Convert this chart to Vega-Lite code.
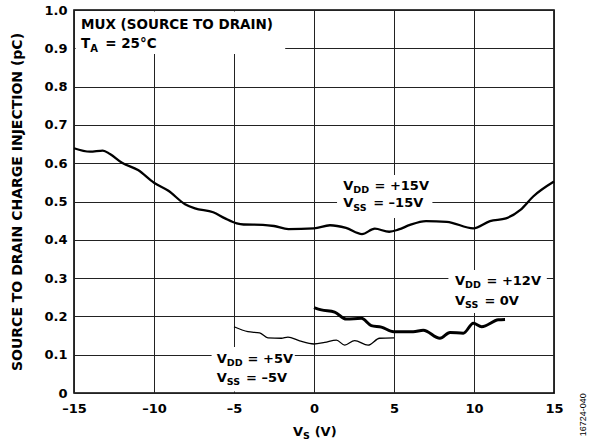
{
  "$schema": "https://vega.github.io/schema/vega-lite/v6.json",
  "width": 480,
  "height": 383,
  "autosize": "none",
  "padding": {"left": 74, "top": 10, "right": 43, "bottom": 53},
  "background": "white",
  "config": {
    "view": {"stroke": "black", "strokeWidth": 1.6},
    "font": "DejaVu Sans",
    "axis": {
      "grid": true,
      "gridColor": "#222222",
      "gridWidth": 1,
      "gridOpacity": 1,
      "ticks": false,
      "domain": false,
      "labelFont": "DejaVu Sans",
      "labelFontWeight": "bold",
      "labelFontSize": 13,
      "labelColor": "black",
      "labelOverlap": false,
      "labelBound": false,
      "labelFlush": false
    }
  },
  "datasets": {
    "curves": [
      {"s": "15", "x": -15, "y": 0.639}, {"s": "15", "x": -14, "y": 0.630}, {"s": "15", "x": -13.2, "y": 0.633},
      {"s": "15", "x": -12.75, "y": 0.624}, {"s": "15", "x": -12, "y": 0.601}, {"s": "15", "x": -11, "y": 0.582},
      {"s": "15", "x": -10, "y": 0.549}, {"s": "15", "x": -9.1, "y": 0.528}, {"s": "15", "x": -8.06, "y": 0.493},
      {"s": "15", "x": -7.44, "y": 0.482}, {"s": "15", "x": -6.3, "y": 0.472}, {"s": "15", "x": -5.56, "y": 0.456},
      {"s": "15", "x": -4.83, "y": 0.443}, {"s": "15", "x": -4.4, "y": 0.440}, {"s": "15", "x": -3.2, "y": 0.439},
      {"s": "15", "x": -2.5, "y": 0.436}, {"s": "15", "x": -1.6, "y": 0.428}, {"s": "15", "x": 0, "y": 0.430},
      {"s": "15", "x": 1.0, "y": 0.438}, {"s": "15", "x": 2.0, "y": 0.431}, {"s": "15", "x": 3.0, "y": 0.415},
      {"s": "15", "x": 3.8, "y": 0.429}, {"s": "15", "x": 4.7, "y": 0.421}, {"s": "15", "x": 5.3, "y": 0.427},
      {"s": "15", "x": 6.0, "y": 0.439}, {"s": "15", "x": 7.0, "y": 0.449}, {"s": "15", "x": 8.3, "y": 0.447},
      {"s": "15", "x": 9.96, "y": 0.430}, {"s": "15", "x": 11, "y": 0.449}, {"s": "15", "x": 12, "y": 0.456},
      {"s": "15", "x": 12.9, "y": 0.478}, {"s": "15", "x": 13.7, "y": 0.513}, {"s": "15", "x": 15, "y": 0.552},
      {"s": "5", "x": -5, "y": 0.173}, {"s": "5", "x": -4.13, "y": 0.160}, {"s": "5", "x": -3.4, "y": 0.157},
      {"s": "5", "x": -2.88, "y": 0.144}, {"s": "5", "x": -2.04, "y": 0.143}, {"s": "5", "x": -1.63, "y": 0.146},
      {"s": "5", "x": -0.9, "y": 0.136}, {"s": "5", "x": 0, "y": 0.128}, {"s": "5", "x": 0.67, "y": 0.132},
      {"s": "5", "x": 1.4, "y": 0.138}, {"s": "5", "x": 1.92, "y": 0.125}, {"s": "5", "x": 2.54, "y": 0.137},
      {"s": "5", "x": 3.38, "y": 0.125}, {"s": "5", "x": 4.1, "y": 0.143}, {"s": "5", "x": 5.0, "y": 0.144},
      {"s": "12", "x": 0, "y": 0.223}, {"s": "12", "x": 0.46, "y": 0.217}, {"s": "12", "x": 1.29, "y": 0.211},
      {"s": "12", "x": 2.02, "y": 0.193}, {"s": "12", "x": 2.96, "y": 0.195}, {"s": "12", "x": 3.58, "y": 0.176},
      {"s": "12", "x": 4.21, "y": 0.172}, {"s": "12", "x": 4.98, "y": 0.160}, {"s": "12", "x": 6.2, "y": 0.160},
      {"s": "12", "x": 6.83, "y": 0.164}, {"s": "12", "x": 7.87, "y": 0.143}, {"s": "12", "x": 8.5, "y": 0.158},
      {"s": "12", "x": 9.33, "y": 0.156}, {"s": "12", "x": 9.96, "y": 0.182}, {"s": "12", "x": 10.48, "y": 0.173},
      {"s": "12", "x": 11.52, "y": 0.191}, {"s": "12", "x": 11.94, "y": 0.192}
    ],
    "boxes": [
      {"x": -14.9, "x2": -1.8, "y": 0.885, "y2": 0.996},
      {"x": 1.44, "x2": 7.4, "y": 0.457, "y2": 0.569},
      {"x": 8.4, "x2": 14.55, "y": 0.209, "y2": 0.321},
      {"x": -6.4, "x2": -1.2, "y": 0.004, "y2": 0.12}
    ],
    "labels": [
      {"part": "title", "x": -14.56, "y": 0.950, "text": "MUX (SOURCE TO DRAIN)"},
      {"part": "title", "x": -14.56, "y": 0.900, "text": "T"},
      {"part": "titlesub", "x": -13.99, "y": 0.891, "text": "A"},
      {"part": "title", "x": -13.05, "y": 0.900, "text": "= 25°C"},
      {"part": "main", "x": 1.83, "y": 0.530, "text": "V"},
      {"part": "sub", "x": 2.46, "y": 0.521, "text": "DD"},
      {"part": "main", "x": 3.78, "y": 0.530, "text": "= +15V"},
      {"part": "main", "x": 1.83, "y": 0.485, "text": "V"},
      {"part": "sub", "x": 2.46, "y": 0.476, "text": "SS"},
      {"part": "main", "x": 3.7, "y": 0.485, "text": "= –15V"},
      {"part": "main", "x": 8.81, "y": 0.282, "text": "V"},
      {"part": "sub", "x": 9.44, "y": 0.273, "text": "DD"},
      {"part": "main", "x": 10.78, "y": 0.282, "text": "= +12V"},
      {"part": "main", "x": 8.81, "y": 0.230, "text": "V"},
      {"part": "sub", "x": 9.44, "y": 0.221, "text": "SS"},
      {"part": "main", "x": 10.65, "y": 0.230, "text": "= 0V"},
      {"part": "main", "x": -6.08, "y": 0.079, "text": "V"},
      {"part": "sub", "x": -5.45, "y": 0.070, "text": "DD"},
      {"part": "main", "x": -4.15, "y": 0.079, "text": "= +5V"},
      {"part": "main", "x": -6.08, "y": 0.0295, "text": "V"},
      {"part": "sub", "x": -5.45, "y": 0.0204, "text": "SS"},
      {"part": "main", "x": -4.25, "y": 0.0295, "text": "= –5V"},
      {"part": "main", "x": -1.31, "y": -0.112, "text": "V"},
      {"part": "sub", "x": -0.68, "y": -0.121, "text": "S"},
      {"part": "main", "x": 0.04, "y": -0.112, "text": "(V)"},
      {"part": "code", "x": 16.83, "y": -0.057, "text": "16724-040"}
    ]
  },
  "encoding": {
    "x": {
      "field": "x",
      "type": "quantitative",
      "scale": {"domain": [-15, 15], "nice": false, "zero": false},
      "axis": {
        "values": [-15, -10, -5, 0, 5, 10, 15],
        "labelPadding": 9,
        "labelExpr": "datum.value < 0 ? '–' + abs(datum.value) : datum.value",
        "title": null
      }
    },
    "y": {
      "field": "y",
      "type": "quantitative",
      "scale": {"domain": [0, 1], "nice": false},
      "axis": {
        "values": [0, 0.1, 0.2, 0.3, 0.4, 0.5, 0.6, 0.7, 0.8, 0.9, 1.0],
        "labelPadding": 7,
        "labelExpr": "datum.value == 0 ? '0' : format(datum.value, '.1f')",
        "title": "SOURCE TO DRAIN CHARGE INJECTION (pC)",
        "titleFont": "DejaVu Sans",
        "titleFontSize": 14,
        "titleFontWeight": "bold",
        "titleColor": "black",
        "titleAngle": -90,
        "titleX": -57,
        "titleY": 191.5,
        "titleAlign": "center",
        "titleBaseline": "middle"
      }
    }
  },
  "layer": [
    {
      "data": {"name": "boxes"},
      "mark": {"type": "rect", "fill": "white", "stroke": null},
      "encoding": {"x2": {"field": "x2"}, "y2": {"field": "y2"}}
    },
    {
      "data": {"name": "curves"},
      "transform": [{"filter": "datum.s == '15'"}],
      "mark": {"type": "line", "color": "black", "interpolate": "monotone", "strokeJoin": "round", "strokeWidth": 2.3},
      "encoding": {}
    },
    {
      "data": {"name": "curves"},
      "transform": [{"filter": "datum.s == '5'"}],
      "mark": {"type": "line", "color": "black", "interpolate": "monotone", "strokeJoin": "round", "strokeWidth": 1.3},
      "encoding": {}
    },
    {
      "data": {"name": "curves"},
      "transform": [{"filter": "datum.s == '12'"}],
      "mark": {"type": "line", "color": "black", "interpolate": "monotone", "strokeJoin": "round", "strokeWidth": 3.0},
      "encoding": {}
    },
    {
      "data": {"name": "labels"},
      "transform": [{"filter": "datum.part == 'main'"}],
      "mark": {"type": "text", "align": "left", "baseline": "alphabetic", "font": "DejaVu Sans", "fontWeight": "bold", "fontSize": 13, "color": "black"},
      "encoding": {"text": {"field": "text"}}
    },
    {
      "data": {"name": "labels"},
      "transform": [{"filter": "datum.part == 'sub'"}],
      "mark": {"type": "text", "align": "left", "baseline": "alphabetic", "font": "DejaVu Sans", "fontWeight": "bold", "fontSize": 9.5, "color": "black"},
      "encoding": {"text": {"field": "text"}}
    },
    {
      "data": {"name": "labels"},
      "transform": [{"filter": "datum.part == 'title'"}],
      "mark": {"type": "text", "align": "left", "baseline": "alphabetic", "font": "DejaVu Sans", "fontWeight": "bold", "fontSize": 13.5, "color": "black"},
      "encoding": {"text": {"field": "text"}}
    },
    {
      "data": {"name": "labels"},
      "transform": [{"filter": "datum.part == 'titlesub'"}],
      "mark": {"type": "text", "align": "left", "baseline": "alphabetic", "font": "DejaVu Sans", "fontWeight": "bold", "fontSize": 10, "color": "black"},
      "encoding": {"text": {"field": "text"}}
    },
    {
      "data": {"name": "labels"},
      "transform": [{"filter": "datum.part == 'code'"}],
      "mark": {"type": "text", "align": "center", "baseline": "middle", "angle": 270, "font": "Liberation Sans", "fontSize": 9, "color": "black"},
      "encoding": {"text": {"field": "text"}}
    }
  ]
}
